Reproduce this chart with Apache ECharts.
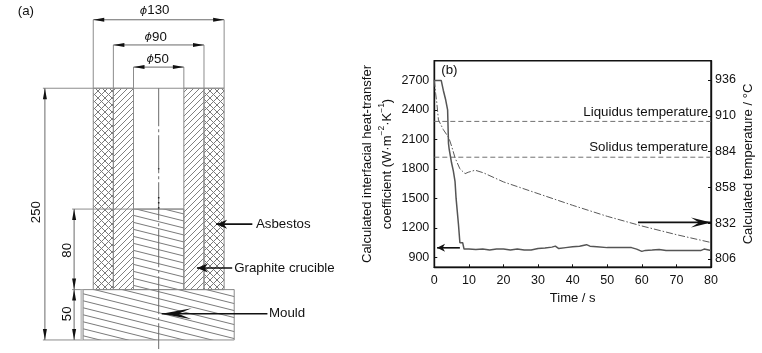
<!DOCTYPE html>
<html><head><meta charset="utf-8">
<style>html,body{margin:0;padding:0;background:#fff}#c{width:762px;height:353px}</style>
<script src="https://cdn.jsdelivr.net/npm/echarts@6/dist/echarts.min.js"></script>
</head><body><div id="c"></div>
<script>
// ---- panel (b) data
const heatTime = [0,2,2.6,3.3,3.85,4.1,4.3,5,5.5,6,6.3,7,7.4,8.2,8.6,10,12,14,16,18,20,22,24,26,28,30,32,34,35,36,38,40,42,44,45,47,50,54,57,58.5,60,61,63,65,67,70,74,77,78,80];
const heatValues = [2700,2700,2600,2500,2400,2060,2000,1860,1780,1670,1500,1230,1050,1050,985,985,980,985,975,985,985,975,985,975,975,990,995,1005,1015,990,1000,1010,1015,1030,1015,1010,1000,1000,1000,985,962,972,975,980,970,970,970,970,985,970];
const tempTime = [0,0.4,0.7,1.2,2.6,4.2,5,6,7.4,8.9,9.8,11.8,14.2,20,30,40,50,60,70,80];
const tempValues = [936,926,920,907,900,894,888,879.5,871.5,868,869,870.5,868.6,862,853.5,845,837,830,823.7,818];
const liquidusLevel = 2283, solidusLevel = 1919;
const timeRange = [0,80];
const heatTicks = [900,1200,1500,1800,2100,2400,2700];
const tempTicks = [806,832,858,884,910,936];
const chartNotes = [
  {text:'Liquidus temperature', x:79.2, y:2379, align:'right'},
  {text:'Solidus temperature', x:79.2, y:2016, align:'right'},
  {text:'(b)', x:2, y:2800, align:'left'}
];
const chartArrowLeft = [[7.4,998,0.8,998]];
const chartArrowRight = [[58.9,832.6,80,832.6]];

// ---- panel (a) drawing, in millimetres from the axis of the crucible
const asbestosZones = [[-65,50,-45,250],[45,50,65,250]];
const crucibleZones = [[-45,50,-25,250],[25,50,45,250]];
const castZones = [[-25,50,25,130],[-75,0,75,50]];
const extensionLines = [
  [-65,250,-65,318],[65,250,65,318],[-45,250,-45,293],[45,250,45,293],[-25,250,-25,271],[25,250,25,271],
  [-115,250,65,250],[-86,130,25,130],[-86,50,-75,50],[-115,0,-75,0]
];
const dimensionLines = [
  [-65,318,65,318],[-45,293,45,293],[-25,271,25,271],
  [-113,0,-113,250],[-84,50,-84,130],[-84,0,-84,50]
];
const calloutArrows = [[93,115,57,115],[73,71.5,38,71.5]];
const mouldArrow = [[108,26,3,26]];
const centreLine = [[0,250,0,-9]];
const centreDots = [[0,170.5,0,169.5],[0,142,0,140.5],[0,137,0,135.5],[0,132,0,130.5]];
const mouldEdge = [[-76.5,0,-76.5,50]];
const drawingNotes = [
  {text:'(a)', x:-140, y:326, align:'left'},
  {text:'{p|ϕ}130', x:-4, y:327, align:'center'},
  {text:'{p|ϕ}90', x:-3, y:301, align:'center'},
  {text:'{p|ϕ}50', x:-1, y:279, align:'center'},
  {text:'250', x:-122, y:127, align:'center', turn:true},
  {text:'80', x:-91, y:89, align:'center', turn:true},
  {text:'50', x:-91, y:26, align:'center', turn:true},
  {text:'Asbestos', x:96.6, y:115, align:'left'},
  {text:'Graphite crucible', x:75, y:71.5, align:'left'},
  {text:'Mould', x:109.5, y:26, align:'left'}
];

// ---- hatch textures
function tile(w,h,paths,color,lw){
  const c=document.createElement('canvas');c.width=w;c.height=h;
  const g=c.getContext('2d');g.strokeStyle=color;g.lineWidth=lw;
  paths.forEach(p=>{g.beginPath();g.moveTo(p[0],p[1]);g.lineTo(p[2],p[3]);g.stroke();});
  return {image:c,repeat:'repeat'};
}
const crossTile = tile(7,7,[[-1,8,8,-1],[-1,-1,8,8],[-1,1,1,-1],[6,8,8,6],[-1,6,1,8],[6,-1,8,1]],'#7a7a7a',1);
const slantTile = tile(6,6,[[-1,7,7,-1],[-1,1,1,-1],[5,7,7,5]],'#808080',1);
const gentleTile = tile(28,7,[[0,0,28,7],[0,-7,28,0],[0,7,28,14]],'#7a7a7a',1);

const FONT='"Liberation Sans", Arial, sans-serif';
const INK='#111';

function zones(data,fill,ax){
  return {type:'custom',xAxisIndex:ax[0],yAxisIndex:ax[1],silent:true,clip:false,z:2,data:data,
    renderItem(p,api){
      const d=data[p.dataIndex],a=api.coord([d[0],d[3]]),b=api.coord([d[2],d[1]]);
      return {type:'rect',shape:{x:a[0],y:a[1],width:b[0]-a[0],height:b[1]-a[1]},
        style:{fill:fill,stroke:'#8a8a8a',lineWidth:1}};
    }};
}
function segments(data,style,ax,z){
  return {type:'custom',xAxisIndex:ax[0],yAxisIndex:ax[1],silent:true,clip:false,z:z||3,data:data,
    renderItem(p,api){
      const d=data[p.dataIndex],a=api.coord([d[0],d[1]]),b=api.coord([d[2],d[3]]);
      return {type:'line',shape:{x1:a[0],y1:a[1],x2:b[0],y2:b[1]},style:Object.assign({fill:null},style)};
    }};
}
function head(tip,from,len,wid,notch){
  const dx=tip[0]-from[0],dy=tip[1]-from[1],L=Math.hypot(dx,dy)||1,ux=dx/L,uy=dy/L,nx=-uy,ny=ux;
  const bx=tip[0]-ux*len,by=tip[1]-uy*len,mx=tip[0]-ux*len*(1-notch),my=tip[1]-uy*len*(1-notch);
  return [tip,[bx+nx*wid/2,by+ny*wid/2],[mx,my],[bx-nx*wid/2,by-ny*wid/2]];
}
function arrows(data,o,ax){
  return {type:'custom',xAxisIndex:ax[0],yAxisIndex:ax[1],silent:true,clip:false,z:6,data:data,
    renderItem(p,api){
      const d=data[p.dataIndex],a=api.coord([d[0],d[1]]),b=api.coord([d[2],d[3]]);
      const kids=[{type:'line',shape:{x1:a[0],y1:a[1],x2:b[0],y2:b[1]},style:{fill:null,stroke:o.color,lineWidth:o.lw}},
        {type:'polygon',shape:{points:head(b,a,o.len,o.wid,o.notch)},style:{fill:o.head}}];
      if(o.both) kids.push({type:'polygon',shape:{points:head(a,b,o.len,o.wid,o.notch)},style:{fill:o.head}});
      return {type:'group',children:kids};
    }};
}
function notes(data,ax,size){
  return {type:'custom',xAxisIndex:ax[0],yAxisIndex:ax[1],silent:true,clip:false,z:8,data:data,
    renderItem(p,api){
      const d=data[p.dataIndex],c=api.coord([d.x,d.y]);
      return {type:'text',x:c[0],y:c[1],rotation:d.turn?Math.PI/2:0,
        style:{text:d.text,align:d.align,verticalAlign:'middle',fontFamily:FONT,fontSize:size,fill:INK,
          rich:{p:{fontStyle:'italic',fontFamily:'"DejaVu Sans"',fontSize:size-2,fill:INK}}}};
    }};
}

const zip=(a,b)=>a.map((v,i)=>[v,b[i]]);
const chart=echarts.init(document.getElementById('c'),null,{renderer:'canvas'});
const DA=[0,0], L=[1,1], R=[1,2];
chart.setOption({
  animation:false,backgroundColor:'#fff',
  grid:[
    {left:0.6,top:0.64,width:349.4,height:351.4,show:false},
    {left:434.3,top:60.7,width:276.7,height:206.6,show:true,borderColor:INK,borderWidth:1.4,backgroundColor:'transparent'}
  ],
  xAxis:[
    {gridIndex:0,type:'value',min:-157,max:190,show:false},
    {gridIndex:1,type:'value',min:timeRange[0],max:timeRange[1],interval:10,name:'Time / s',nameLocation:'middle',nameGap:23,
      nameTextStyle:{fontFamily:FONT,fontSize:13,color:INK},
      axisLine:{lineStyle:{color:INK,width:1.4}},axisTick:{inside:true,length:3,lineStyle:{color:INK}},
      axisLabel:{fontFamily:FONT,fontSize:12.5,color:INK,margin:7},splitLine:{show:false}}
  ],
  yAxis:[
    {gridIndex:0,type:'value',min:-12,max:337,show:false},
    {gridIndex:1,type:'value',min:800,max:2900,position:'left',
      name:'Calculated interfacial heat-transfer\n{n|coefficient (W·m}{s|−2}{n|·K}{s|−1}{n|)}',nameLocation:'middle',nameRotate:90,nameGap:36,
      nameTextStyle:{fontFamily:FONT,fontSize:13,color:INK,lineHeight:20,
        rich:{n:{fontFamily:FONT,fontSize:13,color:INK},s:{fontFamily:FONT,fontSize:8.5,color:INK,verticalAlign:'top'}}},
      axisLine:{show:true,lineStyle:{color:INK,width:1.4}},
      axisTick:{inside:true,length:3,customValues:heatTicks,lineStyle:{color:INK}},
      axisLabel:{customValues:heatTicks,fontFamily:FONT,fontSize:12.5,color:INK,margin:5,formatter:v=>String(v)},splitLine:{show:false}},
    {gridIndex:1,type:'value',min:800,max:950,position:'right',
      name:'Calculated temperature / °C',nameLocation:'middle',nameRotate:90,nameGap:31,
      nameTextStyle:{fontFamily:FONT,fontSize:13,color:INK},
      axisLine:{show:true,lineStyle:{color:INK,width:1.4}},
      axisTick:{inside:true,length:3,customValues:tempTicks,lineStyle:{color:INK}},
      axisLabel:{customValues:tempTicks,fontFamily:FONT,fontSize:12.5,color:INK,margin:4,formatter:v=>String(v)},splitLine:{show:false}}
  ],
  series:[
    // panel (a)
    zones(asbestosZones,crossTile,DA),
    zones(crucibleZones,slantTile,DA),
    zones(castZones,gentleTile,DA),
    segments(extensionLines,{stroke:'#8c8c8c',lineWidth:1},DA),
    segments(mouldEdge,{stroke:'#c4c4c4',lineWidth:2.5},DA),
    segments(centreLine,{stroke:'#6c6c6c',lineWidth:1,lineDash:[38,3,3,3]},DA,4),
    segments(centreDots,{stroke:'#222',lineWidth:1.5},DA,4),
    arrows(dimensionLines,{color:'#6a6a6a',lw:1,len:11,wid:4,notch:0,head:'#111',both:true},DA),
    arrows(calloutArrows,{color:'#111',lw:1.6,len:11,wid:9,notch:0.3,head:'#111'},DA),
    arrows(mouldArrow,{color:'#111',lw:1.6,len:30,wid:11,notch:0.45,head:'#111'},DA),
    notes(drawingNotes,DA,13.3),
    // panel (b)
    {type:'line',name:'Heat-transfer coefficient',xAxisIndex:1,yAxisIndex:1,data:zip(heatTime,heatValues),showSymbol:false,
      lineStyle:{color:'#555',width:1.5},z:4},
    {type:'line',name:'Temperature',xAxisIndex:1,yAxisIndex:2,data:zip(tempTime,tempValues),showSymbol:false,
      lineStyle:{color:'#5a5a5a',width:1,type:[7,2,1.5,2]},z:4},
    {type:'line',name:'Liquidus',xAxisIndex:1,yAxisIndex:1,data:zip(timeRange,[liquidusLevel,liquidusLevel]),showSymbol:false,
      lineStyle:{color:'#707070',width:1,type:[5,3]},z:3},
    {type:'line',name:'Solidus',xAxisIndex:1,yAxisIndex:1,data:zip(timeRange,[solidusLevel,solidusLevel]),showSymbol:false,
      lineStyle:{color:'#707070',width:1,type:[5,3]},z:3},
    arrows(chartArrowLeft,{color:'#111',lw:1.6,len:8,wid:8,notch:0.3,head:'#111'},L),
    arrows(chartArrowRight,{color:'#111',lw:1.6,len:20,wid:10,notch:0.4,head:'#111'},R),
    notes(chartNotes,L,13.3)
  ]
});
</script></body></html>
